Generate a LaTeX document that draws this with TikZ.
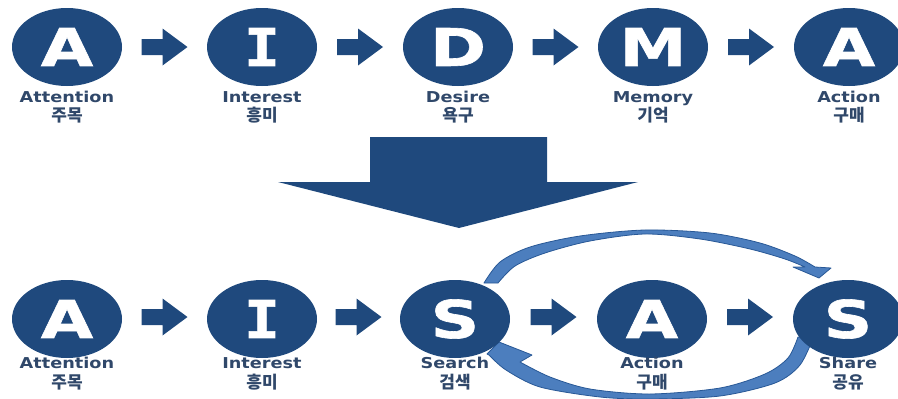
\documentclass[tikz,border=0pt]{standalone}
\usepackage{fontspec}
\newfontfamily\labf{DejaVu Sans}[FakeStretch=1.18]
\newfontfamily\bigf{DejaVu Sans}[FakeStretch=1.3,FakeBold=1.2]
\newfontfamily\monof{DejaVu Sans Mono}[FakeStretch=1.15,FakeBold=1.2]
\newfontfamily\krf{Noto Sans CJK KR}
\usetikzlibrary{calc,shapes.geometric}
\definecolor{navy}{RGB}{31,73,125}
\definecolor{labcol}{RGB}{48,72,106}
\definecolor{curvefill}{RGB}{76,126,190}
\definecolor{curveline}{RGB}{40,88,150}
\newcommand\blkarrow[3]{\fill[navy] ($(#1)!0.5!(#2)+(0,#3)$) ++(-23,-8) -- ++(21,0) -- ++(0,-10.5) -- ++(25,18.5) -- ++(-25,18.5) -- ++(0,-10.5) -- ++(-21,0) -- cycle;}
\begin{document}
\begin{tikzpicture}[x=1pt,y=-1pt,
  circ/.style={ellipse,fill=navy,text=white,inner sep=0pt,minimum width=110pt,minimum height=78pt,font=\bigf\bfseries\fontsize{52}{52}\selectfont},
  lab/.style={anchor=base,text=labcol,inner sep=0pt,font=\labf\bfseries\fontsize{15}{15}\selectfont},
  krlab/.style={anchor=base,text=labcol,inner sep=0pt,font=\krf\bfseries\fontsize{17}{17}\selectfont},
  curv/.style={fill=curvefill,draw=curveline,line width=0.8pt,line join=round}]
\useasboundingbox (0,0) rectangle (898,399);
\clip (0,0) rectangle (898,399);
% curved arrows (behind the circles)
\coordinate (sHead) at (819,278);
\path[curv] plot[smooth] coordinates {(484,283) (500,262) (530,247) (580,236) (645,230) (710,233) (760,243) (795,256) (815,267)}
  -- (831,268) -- (sHead) -- (793,267) --
  plot[smooth] coordinates {(805,267) (785,259) (750,249) (700,239) (645,234) (590,241) (545,253) (515,266) (498,283)} -- cycle;
\coordinate (rHead) at (499,342);
\path[curv] (487,354) -- plot[smooth] coordinates {(489,355) (506,370) (540,387) (600,397) (650,399) (720,396) (775,383) (800,365) (814,336)}
  -- plot[smooth] coordinates {(798,337) (788,358) (765,374) (720,388) (650,394) (590,389) (550,377) (520,362)}
  -- (532,355) -- (rHead) -- cycle;
% top row
\node[circ] (t1) at (67,47) {A};
\node[circ] (t2) at (262,47) {\monof\bfseries I};
\node[circ] (t3) at (458,47) {D};
\node[circ] (t4) at (653,47) {M};
\node[circ] (t5) at (849,47) {A};
\node[lab] (tl1) at (67,102.5) {Attention};
\node[lab] (tl2) at (262,102.5) {Interest};
\node[lab] (tl3) at (458,102.5) {Desire};
\node[lab] (tl4) at (653,102.5) {Memory};
\node[lab] (tl5) at (849,102.5) {Action};
\node[krlab] (tk1) at (67,121.5) {주목};
\node[krlab] (tk2) at (262,121.5) {흥미};
\node[krlab] (tk3) at (458,121.5) {욕구};
\node[krlab] (tk4) at (653,121.5) {기억};
\node[krlab] (tk5) at (849,121.5) {구매};
\blkarrow{t1}{t2}{0}
\blkarrow{t2}{t3}{0}
\blkarrow{t3}{t4}{0}
\blkarrow{t4}{t5}{0}
% big down arrow
\fill[navy] (370,137) -- (547,137) -- (547,182) -- (638,182) -- (459,228) -- (278,182) -- (370,182) -- cycle;
% bottom row
\node[circ] (b1) at (67,319) {A};
\node[circ] (b2) at (262,319) {\monof\bfseries I};
\node[circ] (b3) at (455,319) {S};
\node[circ] (b4) at (652,319) {A};
\node[circ] (b5) at (848,319) {S};
\node[lab] (bl1) at (67,368.5) {Attention};
\node[lab] (bl2) at (262,368.5) {Interest};
\node[lab] (bl3) at (455,368.5) {Search};
\node[lab] (bl4) at (652,368.5) {Action};
\node[lab] (bl5) at (848,368.5) {Share};
\node[krlab] (bk1) at (67,388) {주목};
\node[krlab] (bk2) at (262,388) {흥미};
\node[krlab] (bk3) at (455,388) {검색};
\node[krlab] (bk4) at (652,388) {구매};
\node[krlab] (bk5) at (848,388) {공유};
\blkarrow{b1}{b2}{-2}
\blkarrow{b2}{b3}{-2}
\blkarrow{b3}{b4}{-2}
\blkarrow{b4}{b5}{-2}
\end{tikzpicture}
\end{document}
